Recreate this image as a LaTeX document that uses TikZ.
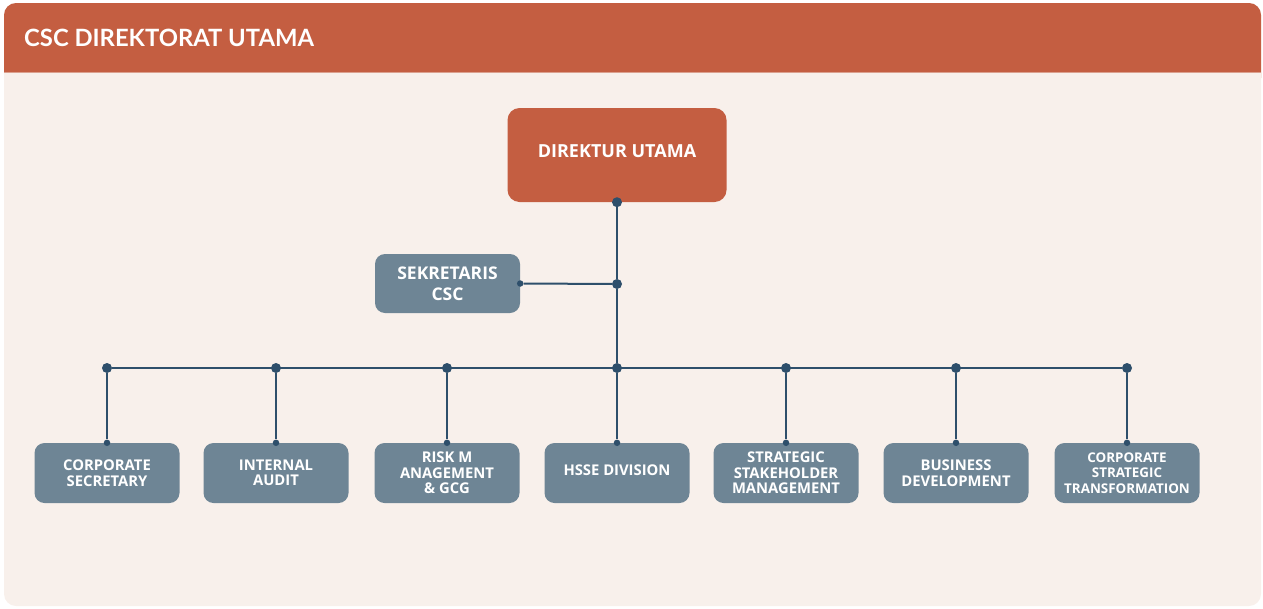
\documentclass[tikz,border=0pt]{standalone}
\usepackage{fontspec}
\setmainfont{Open Sans}
\newfontfamily\headfont{Lato}
\usetikzlibrary{positioning}

\definecolor{cscorange}{HTML}{C45E41}
\definecolor{cscbg}{HTML}{F8F0EB}
\definecolor{cscgrey}{HTML}{6E8595}
\definecolor{cscline}{HTML}{2E4F6B}

\tikzset{
  unit/.style={fill=cscgrey, rounded corners=10pt, minimum width=145pt,
    minimum height=60pt, inner sep=0pt, text=white, align=center,
    font=\bfseries\fontsize{14.8}{16}\selectfont},
  headbox/.style={fill=cscorange, rounded corners=12pt, minimum width=219pt,
    minimum height=94pt, inner sep=0pt, text=white,
    font=\bfseries\fontsize{18}{20}\selectfont},
  bigdot/.style={circle, fill=cscline, minimum size=10pt, inner sep=0pt},
  smalldot/.style={circle, fill=cscline, minimum size=6.5pt, inner sep=0pt},
  link/.style={draw=cscline, line width=2pt},
}

\begin{document}
\begin{tikzpicture}[x=1pt, y=-1pt]

\useasboundingbox (0,0) rectangle (1263,608);

% Card and header band
\fill [cscbg, rounded corners=12pt] (4,3) rectangle (1261,606);
\fill [cscorange, rounded corners=12pt] (4,3) rectangle (1261,90);
\fill [cscbg] (4,72) rectangle (1261,92);
\draw [cscorange!55!cscbg, line width=1.2pt] (4,72.5) -- (1261,72.5);
\node [anchor=base west, text=white, inner sep=0pt,
       font=\headfont\bfseries\fontsize{23.8}{28}\selectfont] (title) at (24,46) {CSC DIREKTORAT UTAMA};

% Top of the tree
\node [headbox] (dirut) at (617,155) {\raisebox{7pt}{DIREKTUR UTAMA}};
\node [bigdot] (dirutdot) at (dirut.south) {};

\node [unit, minimum height=59pt, font=\bfseries\fontsize{17.5}{21}\selectfont]
      (sekretaris) at (447.5,283.5) {SEKRETARIS\\CSC};
\node [smalldot] (sekdot) at (sekretaris.east) {};
\node [bigdot] (sekjoin) at (617,284) {};

% Units under the bus (x / font size / label)
\foreach [count=\i] \x/\fs/\name in {
    107/14.8/{CORPORATE\\SECRETARY},
    276/14.8/{INTERNAL\\AUDIT},
    447/14.8/{RISK M\\ANAGEMENT\\\& GCG},
    617/14.8/{\raisebox{5pt}{HSSE DIVISION}},
    786/14.8/{STRATEGIC\\STAKEHOLDER\\MANAGEMENT},
    956/14.8/{BUSINESS\\DEVELOPMENT},
    1127/13.4/{CORPORATE\\STRATEGIC\\TRANSFORMATION}} {
  \node [unit, font=\bfseries\fontsize{\fs}{15.5}\selectfont] (unit\i) at (\x,473) {\name};
  \node [bigdot] (bus\i) at (\x,368) {};
  \node [smalldot] (top\i) at (unit\i.north) {};
  \draw [link] (bus\i) -- (top\i);
}

% Connectors
\draw [link] (bus1) -- (bus7);
\draw [link] (dirutdot) -- (sekjoin) -- (bus4);
\draw [link] (sekdot) -- (sekjoin);

\end{tikzpicture}
\end{document}
